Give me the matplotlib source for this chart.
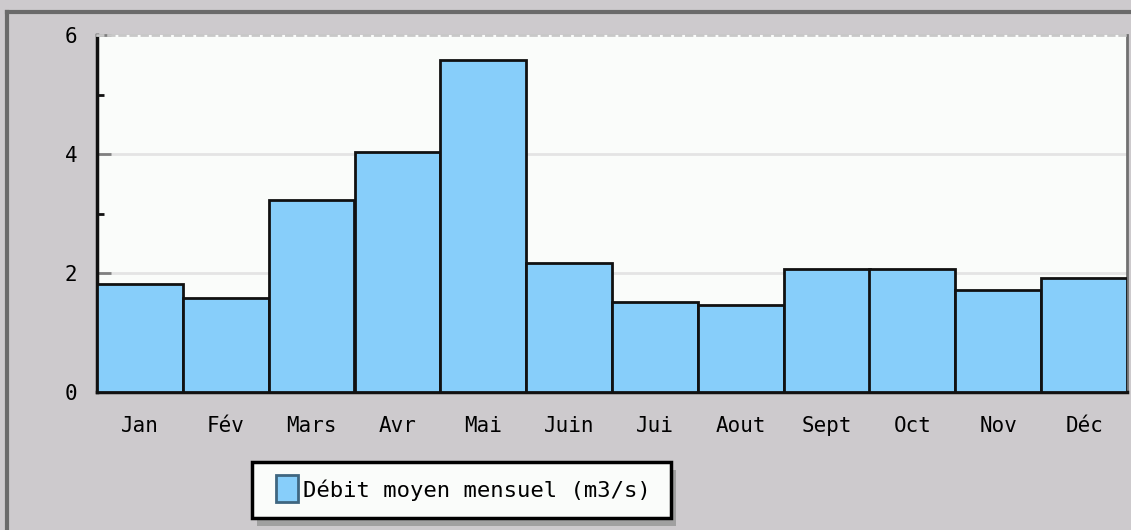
import matplotlib
matplotlib.use("Agg")
import matplotlib.pyplot as plt
from matplotlib.lines import Line2D
from matplotlib.patches import Rectangle
from matplotlib.ticker import MultipleLocator

months = ["Jan", "Fév", "Mars", "Avr", "Mai", "Juin", "Jui", "Aout", "Sept", "Oct", "Nov", "Déc"]
debit = [1.82, 1.58, 3.23, 4.03, 5.58, 2.17, 1.51, 1.46, 2.07, 2.07, 1.71, 1.92]
yticks = [0, 2, 4, 6]
legend_label = "Débit moyen mensuel (m3/s)"

bg = "#cdcacd"
bar_color = "#87cefa"
font = "DejaVu Sans Mono"

W, H = 1131, 530
fig = plt.figure(figsize=(W / 100, H / 100), dpi=100, facecolor=bg)
ax = fig.add_axes([97 / W, 1 - 392 / H, (1127 - 97) / W, (392 - 35) / H])
ax.set_facecolor("#fafcfa")

x = list(range(len(months)))
bars = ax.bar(x, debit, width=1.0, color=bar_color, edgecolor="#111111",
              linewidth=2.0, label=legend_label, zorder=3)

ax.set_xlim(-0.5, len(months) - 0.5)
ax.set_ylim(0, 6)
ax.set_yticks(yticks)
ax.yaxis.set_minor_locator(MultipleLocator(1))
ax.set_xticks(x)
ax.set_xticklabels(months, fontfamily=font, fontsize=15)
ax.set_yticklabels([str(v) for v in yticks], fontfamily=font, fontsize=15)

for v in [2, 4]:
    ax.axhline(v, color="#e4e4e4", lw=2, zorder=1)

ax.tick_params(axis="x", length=0, pad=17)
ax.tick_params(axis="y", which="major", direction="in", length=10, width=2,
               color="#808080", pad=14)
ax.tick_params(axis="y", which="minor", direction="in", length=5, width=2,
               color="#111111")

ax.spines["left"].set_linewidth(2.5)
ax.spines["left"].set_color("#111111")
ax.spines["bottom"].set_linewidth(2.5)
ax.spines["bottom"].set_color("#111111")
ax.spines["top"].set_linestyle((0, (2, 2)))
ax.spines["top"].set_color("#c8c8c8")
ax.spines["top"].set_linewidth(2)
ax.spines["right"].set_color("#707070")
ax.spines["right"].set_linewidth(2)

# outer frame lines (top and left)
fig.add_artist(Line2D([7 / W, 1], [1 - 12 / H, 1 - 12 / H], color="#6a6a6a", lw=3,
                      transform=fig.transFigure))
fig.add_artist(Line2D([7 / W, 7 / W], [0, 1 - 12 / H], color="#6a6a6a", lw=3,
                      transform=fig.transFigure))

# legend box (drawn in figure pixel coordinates)
def fx(px):
    return px / W

def fy(py):
    return 1 - py / H

lx0, lx1, ly0, ly1 = 252, 671, 462, 518
fig.add_artist(Rectangle((fx(lx0 + 5), fy(ly1 + 8)), fx(lx1 - lx0), (ly1 - ly0) / H,
                         transform=fig.transFigure, facecolor="#a0a0a0",
                         edgecolor="none", zorder=5))
fig.add_artist(Rectangle((fx(lx0), fy(ly1)), fx(lx1 - lx0), (ly1 - ly0) / H,
                         transform=fig.transFigure, facecolor="#fafcfa",
                         edgecolor="#000000", linewidth=2.5, zorder=6))
fig.add_artist(Rectangle((fx(276), fy(502)), fx(22), 27 / H,
                         transform=fig.transFigure, facecolor=bar_color,
                         edgecolor="#3f6680", linewidth=2, zorder=7))
fig.text(fx(303), fy(490), legend_label, fontfamily=font, fontsize=16,
         ha="left", va="center", zorder=8)

fig.savefig("out.png", dpi=100, facecolor=bg)
